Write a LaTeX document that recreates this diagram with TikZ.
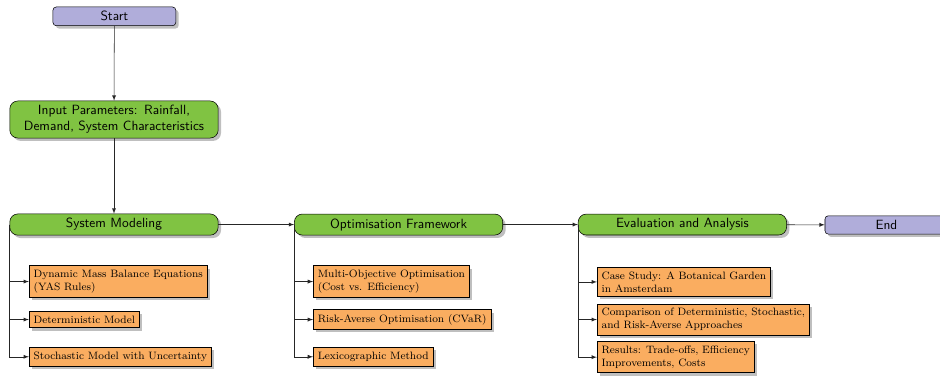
\documentclass[tikz,border=0pt]{standalone}
\usetikzlibrary{shadows}

\definecolor{termcol}{RGB}{176,173,218}
\definecolor{stagecol}{RGB}{128,195,66}
\definecolor{taskcol}{RGB}{250,173,96}

\begin{document}
\begin{tikzpicture}[
    x=1cm, y=1cm, >=latex,
    term node/.style={rectangle, rounded corners=2.5pt, draw=black, fill=termcol, drop shadow, text width=3cm, align=center, font=\sffamily},
    stage node/.style={rectangle, rounded corners=6pt, draw=black, fill=stagecol, drop shadow, text width=5.25cm, align=center, font=\sffamily},
    task node/.style={rectangle, draw=black, fill=taskcol, drop shadow, align=left, anchor=west, font=\footnotesize},
    flow/.style={->, draw=black!85}
]
\useasboundingbox (0,0) rectangle (24.74,-9.895);

% 主流程
\node[term node] (start) at (3.01, -0.43) {Start};
\node[stage node] (input) at (3, -3.145) {Input Parameters: Rainfall, Demand, System Characteristics};
\node[stage node] (sys) at (3, -5.91) {System Modeling};
\node[stage node] (opt) at (10.49, -5.91) {Optimisation Framework};
\node[stage node] (eval) at (17.96, -5.91) {Evaluation and Analysis};
\node[term node] (end) at (23.33, -5.92) {End};

\draw[flow] (start) -- (input);
\draw[flow] (input) -- (sys);
\draw[flow] (sys) -- (opt);
\draw[flow] (opt) -- (eval);
\draw[flow] (eval) -- (end);

% 子任务
\node[task node] (dyn) at (0.76, -7.41) {Dynamic Mass Balance Equations\\(YAS Rules)};
\node[task node] (det) at (0.76, -8.41) {Deterministic Model};
\node[task node] (sto) at (0.76, -9.39) {Stochastic Model with Uncertainty};

\node[task node] (moo) at (8.24, -7.41) {Multi-Objective Optimisation\\(Cost vs. Efficiency)};
\node[task node] (cvar) at (8.24, -8.41) {Risk-Averse Optimisation (CVaR)};
\node[task node] (lex) at (8.24, -9.39) {Lexicographic Method};

\node[task node] (case) at (15.71, -7.42) {Case Study: A Botanical Garden\\in Amsterdam};
\node[task node] (comp) at (15.71, -8.41) {Comparison of Deterministic, Stochastic,\\and Risk-Averse Approaches};
\node[task node] (res) at (15.71, -9.4) {Results: Trade-offs, Efficiency\\Improvements, Costs};

\foreach \t in {dyn, det, sto} \draw[flow] (sys.west) |- (\t.west);
\foreach \t in {moo, cvar, lex} \draw[flow] (opt.west) |- (\t.west);
\foreach \t in {case, comp, res} \draw[flow] (eval.west) |- (\t.west);

\end{tikzpicture}
\end{document}
